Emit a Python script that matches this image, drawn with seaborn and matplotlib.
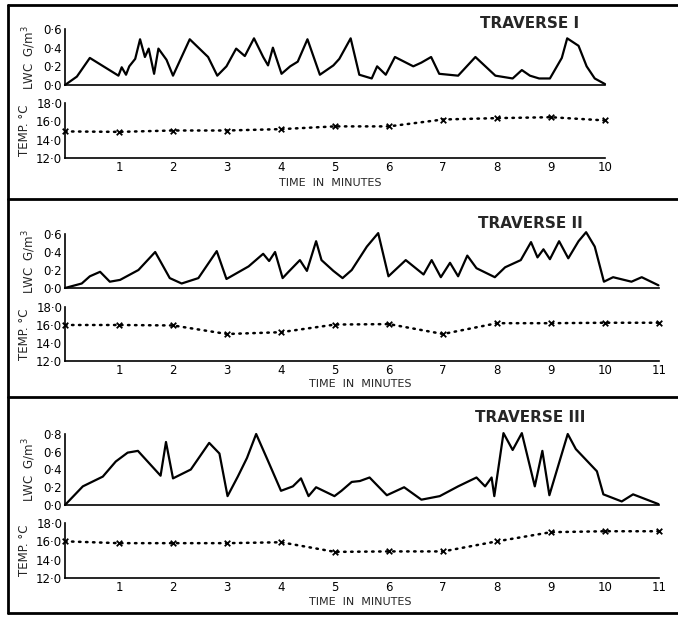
import numpy as np
import pandas as pd
import matplotlib
matplotlib.use('Agg')
import matplotlib.pyplot as plt
from matplotlib.lines import Line2D
import seaborn as sns

# ===================== 数据 =====================
# Traverse I
t1_lwc = [0, 0.22, 0.46, 0.99, 1.05, 1.13, 1.19, 1.30, 1.39, 1.48, 1.55, 1.65, 1.73, 1.88,
          2.0, 2.31, 2.65, 2.82, 2.99, 3.17, 3.33, 3.5, 3.67, 3.76, 3.85, 4.01, 4.17, 4.31,
          4.49, 4.72, 4.97, 5.08, 5.29, 5.45, 5.68, 5.78, 5.94, 6.11, 6.45, 6.6, 6.78, 6.93,
          7.28, 7.6, 7.97, 8.29, 8.46, 8.61, 8.78, 8.98, 9.2, 9.30, 9.51, 9.66, 9.81, 10.0]
lwc1 = [0.0, 0.09, 0.29, 0.10, 0.19, 0.11, 0.20, 0.28, 0.49, 0.30, 0.39, 0.12, 0.39, 0.27,
        0.10, 0.49, 0.30, 0.10, 0.20, 0.39, 0.31, 0.50, 0.30, 0.21, 0.40, 0.12, 0.20, 0.25,
        0.49, 0.11, 0.21, 0.28, 0.50, 0.11, 0.07, 0.20, 0.11, 0.30, 0.20, 0.24, 0.30, 0.12,
        0.10, 0.30, 0.10, 0.07, 0.16, 0.10, 0.07, 0.07, 0.29, 0.50, 0.42, 0.20, 0.07, 0.01]
t1_temp = [0, 1, 2, 3, 4, 5, 6, 7, 8, 9, 10]
temp1 = [14.9, 14.85, 15.0, 15.0, 15.15, 15.45, 15.45, 16.2, 16.35, 16.45, 16.1]

# Traverse II
t2_lwc = [0, 0.31, 0.46, 0.65, 0.83, 1.02, 1.36, 1.67, 1.94, 2.16, 2.47, 2.81, 2.99, 3.40,
          3.67, 3.78, 3.89, 4.03, 4.14, 4.35, 4.48, 4.65, 4.75, 4.97, 5.14, 5.31, 5.59, 5.80,
          5.99, 6.31, 6.64, 6.79, 6.96, 7.13, 7.28, 7.45, 7.62, 7.96, 8.15, 8.44, 8.63, 8.75,
          8.86, 8.98, 9.15, 9.32, 9.51, 9.65, 9.81, 9.98, 10.15, 10.49, 10.68, 10.99]
lwc2 = [0.0, 0.05, 0.13, 0.18, 0.07, 0.09, 0.20, 0.40, 0.11, 0.05, 0.11, 0.41, 0.10, 0.24,
        0.38, 0.30, 0.40, 0.11, 0.18, 0.31, 0.19, 0.52, 0.31, 0.19, 0.11, 0.20, 0.46, 0.61,
        0.13, 0.31, 0.15, 0.31, 0.12, 0.28, 0.13, 0.36, 0.22, 0.12, 0.23, 0.31, 0.51, 0.34,
        0.43, 0.32, 0.52, 0.33, 0.52, 0.62, 0.46, 0.07, 0.12, 0.07, 0.12, 0.03]
t2_temp = [0, 1, 2, 3, 4, 5, 6, 7, 8, 9, 10, 11]
temp2 = [16.0, 16.0, 15.95, 15.0, 15.2, 16.05, 16.1, 15.0, 16.2, 16.2, 16.25, 16.25]

# Traverse III
t3_lwc = [0, 0.33, 0.70, 0.94, 1.16, 1.35, 1.62, 1.77, 1.87, 2.0, 2.33, 2.67, 2.86, 3.01,
          3.20, 3.37, 3.54, 3.75, 4.0, 4.22, 4.37, 4.51, 4.65, 4.99, 5.12, 5.31, 5.46, 5.64,
          5.96, 6.28, 6.6, 6.94, 7.28, 7.62, 7.78, 7.9, 7.95, 8.12, 8.29, 8.46, 8.70, 8.84,
          8.97, 9.31, 9.46, 9.85, 9.97, 10.31, 10.52, 10.99]
lwc3 = [0.0, 0.21, 0.32, 0.49, 0.59, 0.61, 0.43, 0.33, 0.71, 0.30, 0.40, 0.70, 0.58, 0.10,
        0.32, 0.53, 0.80, 0.51, 0.16, 0.21, 0.30, 0.10, 0.20, 0.10, 0.16, 0.26, 0.27, 0.31,
        0.11, 0.20, 0.06, 0.10, 0.21, 0.31, 0.21, 0.31, 0.10, 0.81, 0.62, 0.81, 0.21, 0.61,
        0.11, 0.80, 0.63, 0.38, 0.12, 0.04, 0.12, 0.01]
t3_temp = [0, 1, 2, 3, 4, 5, 6, 7, 8, 9, 10, 11]
temp3 = [16.0, 15.8, 15.8, 15.8, 15.9, 14.85, 14.9, 14.9, 16.0, 17.0, 17.1, 17.1]

TRAVERSES = [
    ('TRAVERSE I', t1_lwc, lwc1, t1_temp, temp1, 10, [0.0, 0.2, 0.4, 0.6]),
    ('TRAVERSE II', t2_lwc, lwc2, t2_temp, temp2, 11, [0.0, 0.2, 0.4, 0.6]),
    ('TRAVERSE III', t3_lwc, lwc3, t3_temp, temp3, 11, [0.0, 0.2, 0.4, 0.6, 0.8]),
]
TEMP_TICKS = [12.0, 14.0, 16.0, 18.0]

# ===================== 布局 (像素 -> 图坐标) =====================
W, H = 678, 618
def fx(px):
    return px / W
def fy(py):
    return 1 - py / H

# (lwc top, lwc bottom, temp top, temp bottom, traverse label y, time label x, time label y, box top)
LAYOUT = [
    (29, 85, 103, 158, 23, 330, 183, 5),
    (234, 288, 307, 361, 224, 360, 384, 199),
    (434, 505, 523, 578, 417, 360, 602, 397),
]
X0, PX_PER_MIN = 65, 54

sns.set_style('white')
plt.rcParams['font.family'] = ['DejaVu Sans']

fig = plt.figure(figsize=(6.78, 6.18), dpi=100)

def style_axis(ax, xmax, yticks, labels):
    ax.set_xlim(0, xmax)
    ax.set_ylim(yticks[0], yticks[-1])
    ax.set_xticks(range(1, xmax + 1))
    ax.set_yticks(yticks)
    ax.set_yticklabels(labels, fontsize=8.5)
    sns.despine(ax=ax, top=True, right=True)
    for s in ['left', 'bottom']:
        ax.spines[s].set_linewidth(1.2)
        ax.spines[s].set_color('black')
    ax.tick_params(axis='both', direction='in', length=4, width=1.1, colors='black',
                   pad=2)
    ax.set_xlabel('')
    ax.set_facecolor('none')

for (name, t_l, lwc, t_t, temp, xmax, lwc_ticks), lay in zip(TRAVERSES, LAYOUT):
    lt, lb, tt, tb, ty, tlx, tly, box_top = lay
    width = fx(xmax * PX_PER_MIN)

    # LWC 曲线
    ax1 = fig.add_axes([fx(X0), fy(lb), width, (lb - lt) / H])
    df = pd.DataFrame({'t': t_l, 'lwc': lwc})
    sns.lineplot(data=df, x='t', y='lwc', ax=ax1, color='black', lw=1.6,
                 sort=False, clip_on=False)
    style_axis(ax1, xmax, lwc_ticks, [f'{v:.1f}'.replace('.', '·') for v in lwc_ticks])
    ax1.set_xticklabels([])
    ax1.set_ylabel('LWC  G/m$^3$', fontsize=8.5, labelpad=4)

    # 温度曲线
    ax2 = fig.add_axes([fx(X0), fy(tb), width, (tb - tt) / H])
    dft = pd.DataFrame({'t': t_t, 'temp': temp})
    sns.lineplot(data=dft, x='t', y='temp', ax=ax2, color='black', lw=1.8,
                 linestyle=(0, (0.6, 2.2)), dash_capstyle='round', clip_on=False)
    sns.scatterplot(data=dft, x='t', y='temp', ax=ax2, marker='x', color='black',
                    s=16, linewidth=1.3, clip_on=False, zorder=5)
    style_axis(ax2, xmax, TEMP_TICKS, [f'{v:.1f}'.replace('.', '·') for v in TEMP_TICKS])
    ax2.set_xticklabels([str(i) for i in range(1, xmax + 1)], fontsize=8.5)
    ax2.tick_params(axis='x', pad=2)
    ax2.set_ylabel('TEMP. °C', fontsize=8.5, labelpad=4)

    fig.text(fx(530), fy(ty), name, fontsize=11, fontweight='bold',
             ha='center', va='center')
    fig.text(fx(tlx), fy(tly), 'TIME  IN  MINUTES', fontsize=8,
             ha='center', va='center')

    # 边框横线
    fig.add_artist(Line2D([fx(8), 1.0], [fy(box_top), fy(box_top)], color='black', lw=2))

fig.add_artist(Line2D([fx(8), 1.0], [fy(613), fy(613)], color='black', lw=2))
fig.add_artist(Line2D([fx(8), fx(8)], [fy(5), fy(613)], color='black', lw=2))

fig.align_ylabels()
plt.savefig('out.png', dpi=100)
plt.close()
